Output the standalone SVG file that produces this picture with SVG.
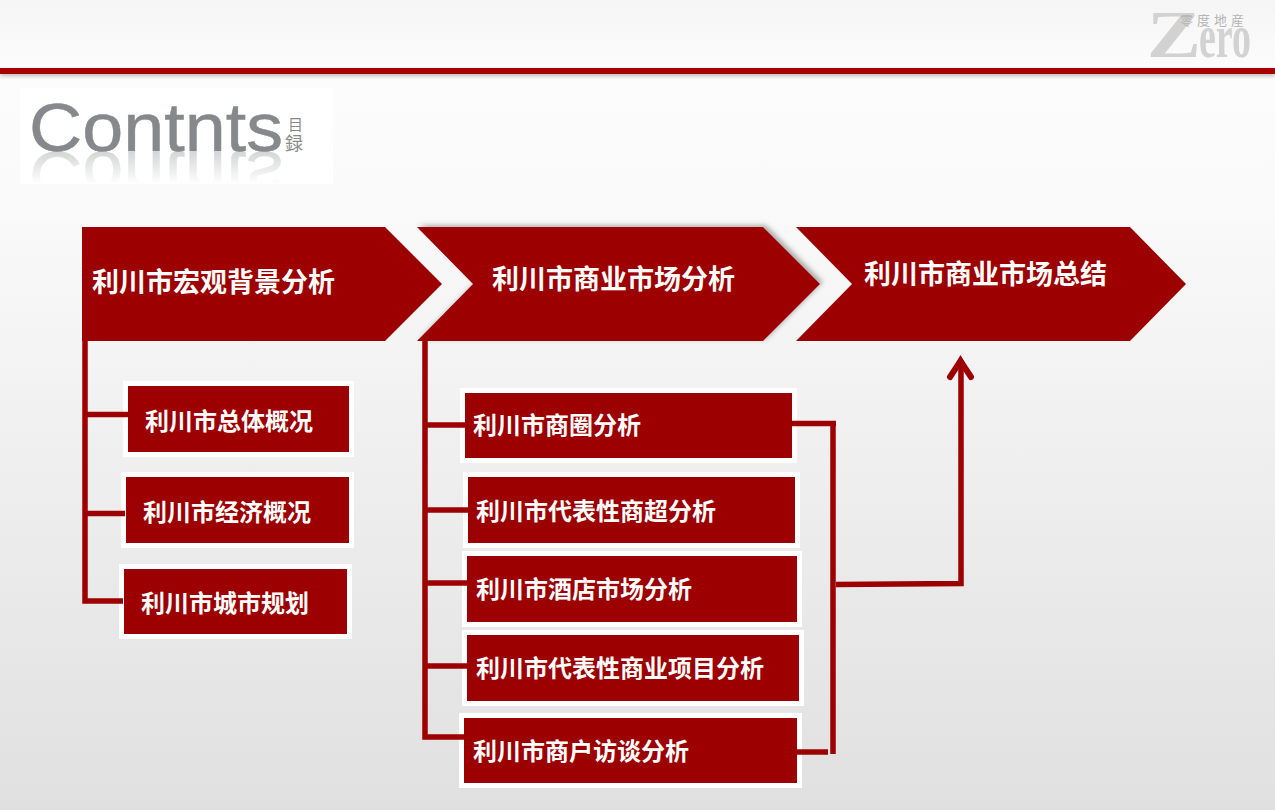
<svg xmlns="http://www.w3.org/2000/svg" width="1275" height="810" viewBox="0 0 1275 810">
<defs>
<linearGradient id="bg" x1="0" y1="0" x2="0" y2="1"><stop offset="0" stop-color="#f5f5f5"/><stop offset="0.085" stop-color="#fcfcfc"/><stop offset="0.25" stop-color="#fafafa"/><stop offset="1" stop-color="#e0e0e0"/></linearGradient>
<linearGradient id="fade" gradientUnits="userSpaceOnUse" x1="0" y1="152" x2="0" y2="184"><stop offset="0" stop-color="#fff" stop-opacity="0.35"/><stop offset="1" stop-color="#fff" stop-opacity="0"/></linearGradient>
<mask id="fm" maskUnits="userSpaceOnUse" x="20" y="150" width="320" height="36"><rect x="20" y="150" width="320" height="36" fill="url(#fade)"/></mask>
<filter id="sh" x="-5%" y="-10%" width="110%" height="120%"><feDropShadow dx="3" dy="-2" stdDeviation="2.500" flood-color="#555" flood-opacity="0.45"/></filter>
<filter id="ln" x="-1%" y="-100%" width="102%" height="300%"><feDropShadow dx="0" dy="2" stdDeviation="2" flood-color="#666" flood-opacity="0.45"/></filter>
<text id="cword" x="29" y="151" class="cw" textLength="254" lengthAdjust="spacingAndGlyphs">Contnts</text>
</defs>
<style>
.chev{fill:#9c0000}
.box{fill:#9c0000;stroke:#fff;stroke-width:5}
.t1{font-family:"Noto Sans CJK SC","Liberation Sans",sans-serif;font-size:27px;font-weight:700;fill:#fff}
.t2{font-family:"Noto Sans CJK SC","Liberation Sans",sans-serif;font-size:24px;font-weight:700;fill:#fff}
.cw{font-family:"Liberation Sans",sans-serif;font-size:68px;fill:#86888b;stroke:#86888b;stroke-width:0.500}
.cj{font-family:"Noto Sans CJK TC",sans-serif;fill:#8a8a8a}
.zb{font-family:"Liberation Serif",serif;font-weight:700;fill:#d2d2d2}
.zc{font-family:"Noto Sans CJK TC",serif;font-size:13px;fill:#b4b4b4;letter-spacing:4px}
.con{fill:none;stroke:#9c0000;stroke-width:5.500}
</style>
<rect width="1275" height="810" fill="url(#bg)"/>
<g id="header">
<rect x="0" y="68" width="1275" height="6" fill="#a80000" filter="url(#ln)"/>
<text class="zb" x="1147" y="57" font-size="68" textLength="54" lengthAdjust="spacingAndGlyphs">Z</text>
<text class="zb" x="1199" y="57" font-size="62" textLength="52" lengthAdjust="spacingAndGlyphs">ero</text>
<text class="zc" x="1180" y="25">零度地産</text>
</g>
<g id="logo">
<rect x="20" y="88" width="313" height="96" fill="#fff"/>
<use href="#cword"/>
<g mask="url(#fm)"><use href="#cword" transform="matrix(1 0 0 -1 0 303)"/></g>
<text class="cj" x="288" y="130" font-size="15">目</text>
<text class="cj" x="285" y="150" font-size="18">録</text>
</g>
<g id="n1"><path class="chev" d="M82 227H385L442 284L385 341H82Z"/><text class="t1" x="92" y="292">利川市宏观背景分析</text></g>
<g id="n2"><path class="chev" filter="url(#sh)" d="M417 227H763L820 284L763 341H417L473 284Z"/><text class="t1" x="492" y="289">利川市商业市场分析</text></g>
<g id="n3"><path class="chev" d="M796 227H1130L1186 284L1130 341H796L852 284Z"/><text class="t1" x="864" y="284">利川市商业市场总结</text></g>
<g id="a1"><rect class="box" x="125.500" y="383.500" width="226" height="71"/><text class="t2" x="145" y="430">利川市总体概况</text></g>
<g id="a2"><rect class="box" x="123.500" y="474.500" width="228" height="71"/><text class="t2" x="143" y="521">利川市经济概况</text></g>
<g id="a3"><rect class="box" x="121.500" y="566.500" width="228" height="70"/><text class="t2" x="141" y="612">利川市城市规划</text></g>
<g id="b1"><rect class="box" x="462.500" y="390.500" width="332" height="70"/><text class="t2" x="473" y="434">利川市商圈分析</text></g>
<g id="b2"><rect class="box" x="465.500" y="474.500" width="332" height="71"/><text class="t2" x="476" y="520">利川市代表性商超分析</text></g>
<g id="b3"><rect class="box" x="464.500" y="553.500" width="335" height="71"/><text class="t2" x="476" y="598">利川市酒店市场分析</text></g>
<g id="b4"><rect class="box" x="464.500" y="632.500" width="337" height="71"/><text class="t2" x="476" y="677">利川市代表性商业项目分析</text></g>
<g id="b5"><rect class="box" x="461.500" y="715.500" width="338" height="70"/><text class="t2" x="473" y="760">利川市商户访谈分析</text></g>
<g id="connectors">
<path class="con" d="M85 341V601H123M85 414.500H128M85 513.500H125"/>
<path class="con" d="M425 341V737H464M425 425H465M425 510H468M425 583H467M425 666H467"/>
<path class="con" d="M792 423.500H836M833 422V754M797 752H828"/>
<path class="con" d="M836 584.500L961 583.500V362"/>
<path d="M950 377L960.500 361L971 377" fill="none" stroke="#9c0000" stroke-width="6" stroke-linecap="round"/>
<path d="M960.500 355L954 367H967Z" fill="#9c0000"/>
</g>
</svg>
